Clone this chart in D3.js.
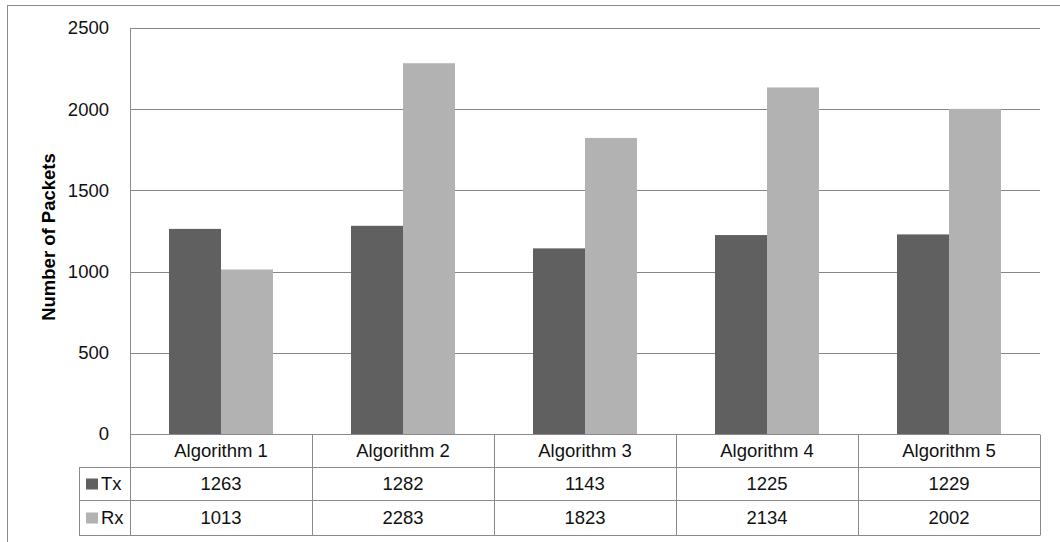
<!DOCTYPE html>
<html lang="en">
<head>
    <meta charset="UTF-8">
    <title>Number of Packets</title>
    <style>
        body {
            margin: 0;
            background: #fff;
        }

        svg {
            display: block;
            font-family: "Liberation Sans", Arial, sans-serif;
        }

        .grid line {
            stroke: #868686;
            stroke-width: 1;
        }

        .table line {
            stroke: #8a8a8a;
            stroke-width: 1;
        }
    </style>
</head>

<body>
    <svg id="chart"></svg>
</body>

<script src="https://cdn.jsdelivr.net/npm/d3@7/dist/d3.min.js"></script>

<script>
    let categories = ["Algorithm 1", "Algorithm 2", "Algorithm 3", "Algorithm 4", "Algorithm 5"]
    let seriesNames = ["Tx", "Rx"]
    let txValues = [1263, 1282, 1143, 1225, 1229]
    let rxValues = [1013, 2283, 1823, 2134, 2002]
    let yTicks = [0, 500, 1000, 1500, 2000, 2500]
    let colors = { Tx: "#606060", Rx: "#b2b2b2" }

    let width = 1060;
    let height = 542;
    let fontSize = 18.5;

    let svg = d3.select("#chart")
        .attr("width", width)
        .attr("height", height)

    // chart area border (cut off at right and bottom like the reference)
    svg.append("rect")
        .attr("x", 7.5)
        .attr("y", 5.5)
        .attr("width", width + 20)
        .attr("height", height + 20)
        .attr("fill", "#fff")
        .attr("stroke", "#8c8c8c")

    let plot = { left: 130, right: 1040, top: 28, bottom: 434 }
    let rowH = [33, 33, 35]
    let legendLeft = 79;

    let xScale = d3.scaleBand()
        .domain(categories)
        .range([plot.left, plot.right])

    let innerScale = d3.scaleBand()
        .domain(seriesNames)
        .range([0, xScale.bandwidth()])
        .paddingOuter(0.75)

    let yScale = d3.scaleLinear()
        .domain([0, 2500])
        .range([plot.bottom, plot.top])

    // gridlines
    svg.append("g")
        .attr("class", "grid")
        .selectAll("line")
        .data(yTicks.slice(1))
        .join("line")
        .attr("x1", plot.left)
        .attr("x2", plot.right)
        .attr("y1", d => Math.round(yScale(d)) + 0.5)
        .attr("y2", d => Math.round(yScale(d)) + 0.5)

    // y tick labels
    svg.append("g")
        .selectAll("text")
        .data(yTicks)
        .join("text")
        .attr("x", 109)
        .attr("y", d => yScale(d))
        .attr("dy", "0.35em")
        .attr("text-anchor", "end")
        .attr("font-size", fontSize)
        .attr("fill", "#111")
        .text(d => d)

    // axis title
    svg.append("text")
        .attr("transform", `translate(55,${(plot.top + plot.bottom) / 2 + 6}) rotate(-90)`)
        .attr("text-anchor", "middle")
        .attr("font-size", fontSize)
        .attr("font-weight", "bold")
        .text("Number of Packets")

    // bars
    let data = categories.map((c, i) => ({ category: c, Tx: txValues[i], Rx: rxValues[i] }))

    svg.append("g")
        .selectAll("g")
        .data(data)
        .join("g")
        .attr("transform", d => `translate(${xScale(d.category)},0)`)
        .selectAll("rect")
        .data(d => seriesNames.map(s => ({ series: s, value: d[s] })))
        .join("rect")
        .attr("x", d => innerScale(d.series))
        .attr("width", innerScale.bandwidth())
        .attr("y", d => yScale(d.value))
        .attr("height", d => plot.bottom - yScale(d.value))
        .attr("fill", d => colors[d.series])

    // data table
    let table = svg.append("g").attr("class", "table")
    let y0 = plot.bottom + 0.5
    let y1 = y0 + rowH[0]
    let y2 = y1 + rowH[1]
    let y3 = y2 + rowH[2]

    table.append("line").attr("x1", plot.left).attr("x2", plot.right).attr("y1", y0).attr("y2", y0)
    table.append("line").attr("x1", legendLeft).attr("x2", plot.right).attr("y1", y1).attr("y2", y1)
    table.append("line").attr("x1", legendLeft).attr("x2", plot.right).attr("y1", y2).attr("y2", y2)
    table.append("line").attr("x1", legendLeft).attr("x2", plot.right).attr("y1", y3).attr("y2", y3)

    // vertical lines
    table.append("line").attr("x1", plot.left + 0.5).attr("x2", plot.left + 0.5).attr("y1", plot.top).attr("y2", y3)
    table.append("line").attr("x1", legendLeft + 0.5).attr("x2", legendLeft + 0.5).attr("y1", y1).attr("y2", y3)
    table.selectAll(".sep")
        .data(categories)
        .join("line")
        .attr("class", "sep")
        .attr("x1", d => Math.round(xScale(d) + xScale.bandwidth()) + 0.5)
        .attr("x2", d => Math.round(xScale(d) + xScale.bandwidth()) + 0.5)
        .attr("y1", y0)
        .attr("y2", y3)

    // category labels
    svg.append("g")
        .selectAll("text")
        .data(categories)
        .join("text")
        .attr("x", d => xScale(d) + xScale.bandwidth() / 2)
        .attr("y", (y0 + y1) / 2)
        .attr("dy", "0.35em")
        .attr("text-anchor", "middle")
        .attr("font-size", fontSize)
        .attr("fill", "#111")
        .text(d => d)

    // value rows
    let rows = [{ name: "Tx", values: txValues, y: (y1 + y2) / 2 }, { name: "Rx", values: rxValues, y: (y2 + y3) / 2 }]

    rows.forEach(row => {
        svg.append("g")
            .selectAll("text")
            .data(row.values)
            .join("text")
            .attr("x", (d, i) => xScale(categories[i]) + xScale.bandwidth() / 2)
            .attr("y", row.y)
            .attr("dy", "0.35em")
            .attr("text-anchor", "middle")
            .attr("font-size", fontSize)
            .attr("fill", "#111")
            .text(d => d)

        svg.append("rect")
            .attr("x", 86)
            .attr("y", row.y - 5.5)
            .attr("width", 12)
            .attr("height", 11)
            .attr("fill", colors[row.name])

        svg.append("text")
            .attr("x", 101)
            .attr("y", row.y)
            .attr("dy", "0.35em")
            .attr("font-size", fontSize)
            .attr("fill", "#111")
            .text(row.name)
    })
</script>

</html>
